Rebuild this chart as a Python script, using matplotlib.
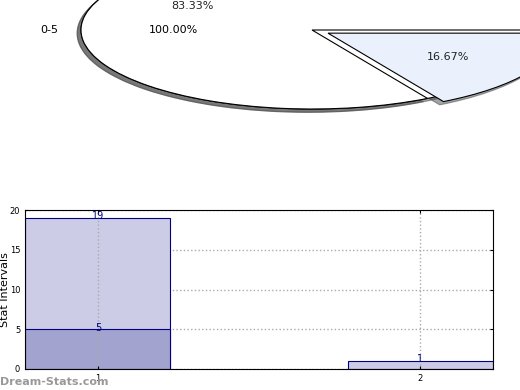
import matplotlib
matplotlib.use("Agg")
import matplotlib.pyplot as plt

# pie data
outer_labels = ["0-5"]
outer_values = [6]
inner_values = [5, 1]
inner_colors = ["white", "#eaf1fd"]

# bar data
bar_x = [1, 2]
bar_totals = [19, 1]
sub_x = [1]
sub_values = [5]

fig = plt.figure(figsize=(5.2, 3.9), dpi=100)

# pie, mostly running off the top of the figure
shadow = {"ox": -0.012, "oy": -0.03, "shade": 0.7}
pie_ax = fig.add_axes([0, 0, 1, 1])
pie_ax.pie(outer_values, labels=outer_labels, autopct="%.2f%%", colors=["white"],
           shadow=shadow, labeldistance=1.1, pctdistance=0.6,
           textprops={"fontsize": 8},
           wedgeprops={"edgecolor": "black", "linewidth": 0.8})
pie_ax.pie(inner_values, autopct="%.2f%%", colors=inner_colors, explode=[0, 0.08],
           shadow=shadow, pctdistance=0.6,
           textprops={"fontsize": 8, "color": "#222222"},
           wedgeprops={"edgecolor": "black", "linewidth": 0.8})
pie_ax.set_aspect("auto")
pie_ax.set_xlim(-312 / 231, 208 / 231)
pie_ax.set_ylim(-360 / 79, 30 / 79)
pie_ax.axis("off")

# frequency bars
ax = fig.add_axes([25 / 520, 21 / 390, 468 / 520, 159 / 390])
ax.bar(bar_x, bar_totals, width=0.45, color="#ccccE6", edgecolor="#000080", linewidth=0.8, zorder=1)
ax.bar(sub_x, sub_values, width=0.45, color="#a3a3cf", edgecolor="#000080", linewidth=0.8, zorder=1.1)
for x, v in zip(bar_x, bar_totals):
    ax.text(x, v + 0.3, str(v), ha="center", va="center", fontsize=7, color="#000080", zorder=4)
for x, v in zip(sub_x, sub_values):
    ax.text(x, v + 0.2, str(v), ha="center", va="center", fontsize=7, color="#000080", zorder=4)
ax.set_xlim(0.774, 2.226)
ax.set_ylim(0, 20)
ax.set_xticks(bar_x)
ax.set_yticks([0, 5, 10, 15, 20])
ax.tick_params(labelsize=6, direction="in", length=2, right=True, top=True)
ax.grid(True, linestyle=":", color="#aaaaaa", linewidth=1)
# vertical grid shows through the bars, horizontal stays behind
ax.xaxis.set_zorder(2.5)
ax.yaxis.set_zorder(0.5)
for s in ax.spines.values():
    s.set_zorder(3)
ax.set_ylabel("Stat Intervals", fontsize=8)
ax.yaxis.set_label_coords(-0.031, 0.5)
ax.set_xlabel("Frequency", fontsize=8, labelpad=6)

fig.text(0.0, 0.013, "Dream-Stats.com", fontsize=8, color="#999999", fontweight="bold")

fig.savefig("out.png", dpi=100)
